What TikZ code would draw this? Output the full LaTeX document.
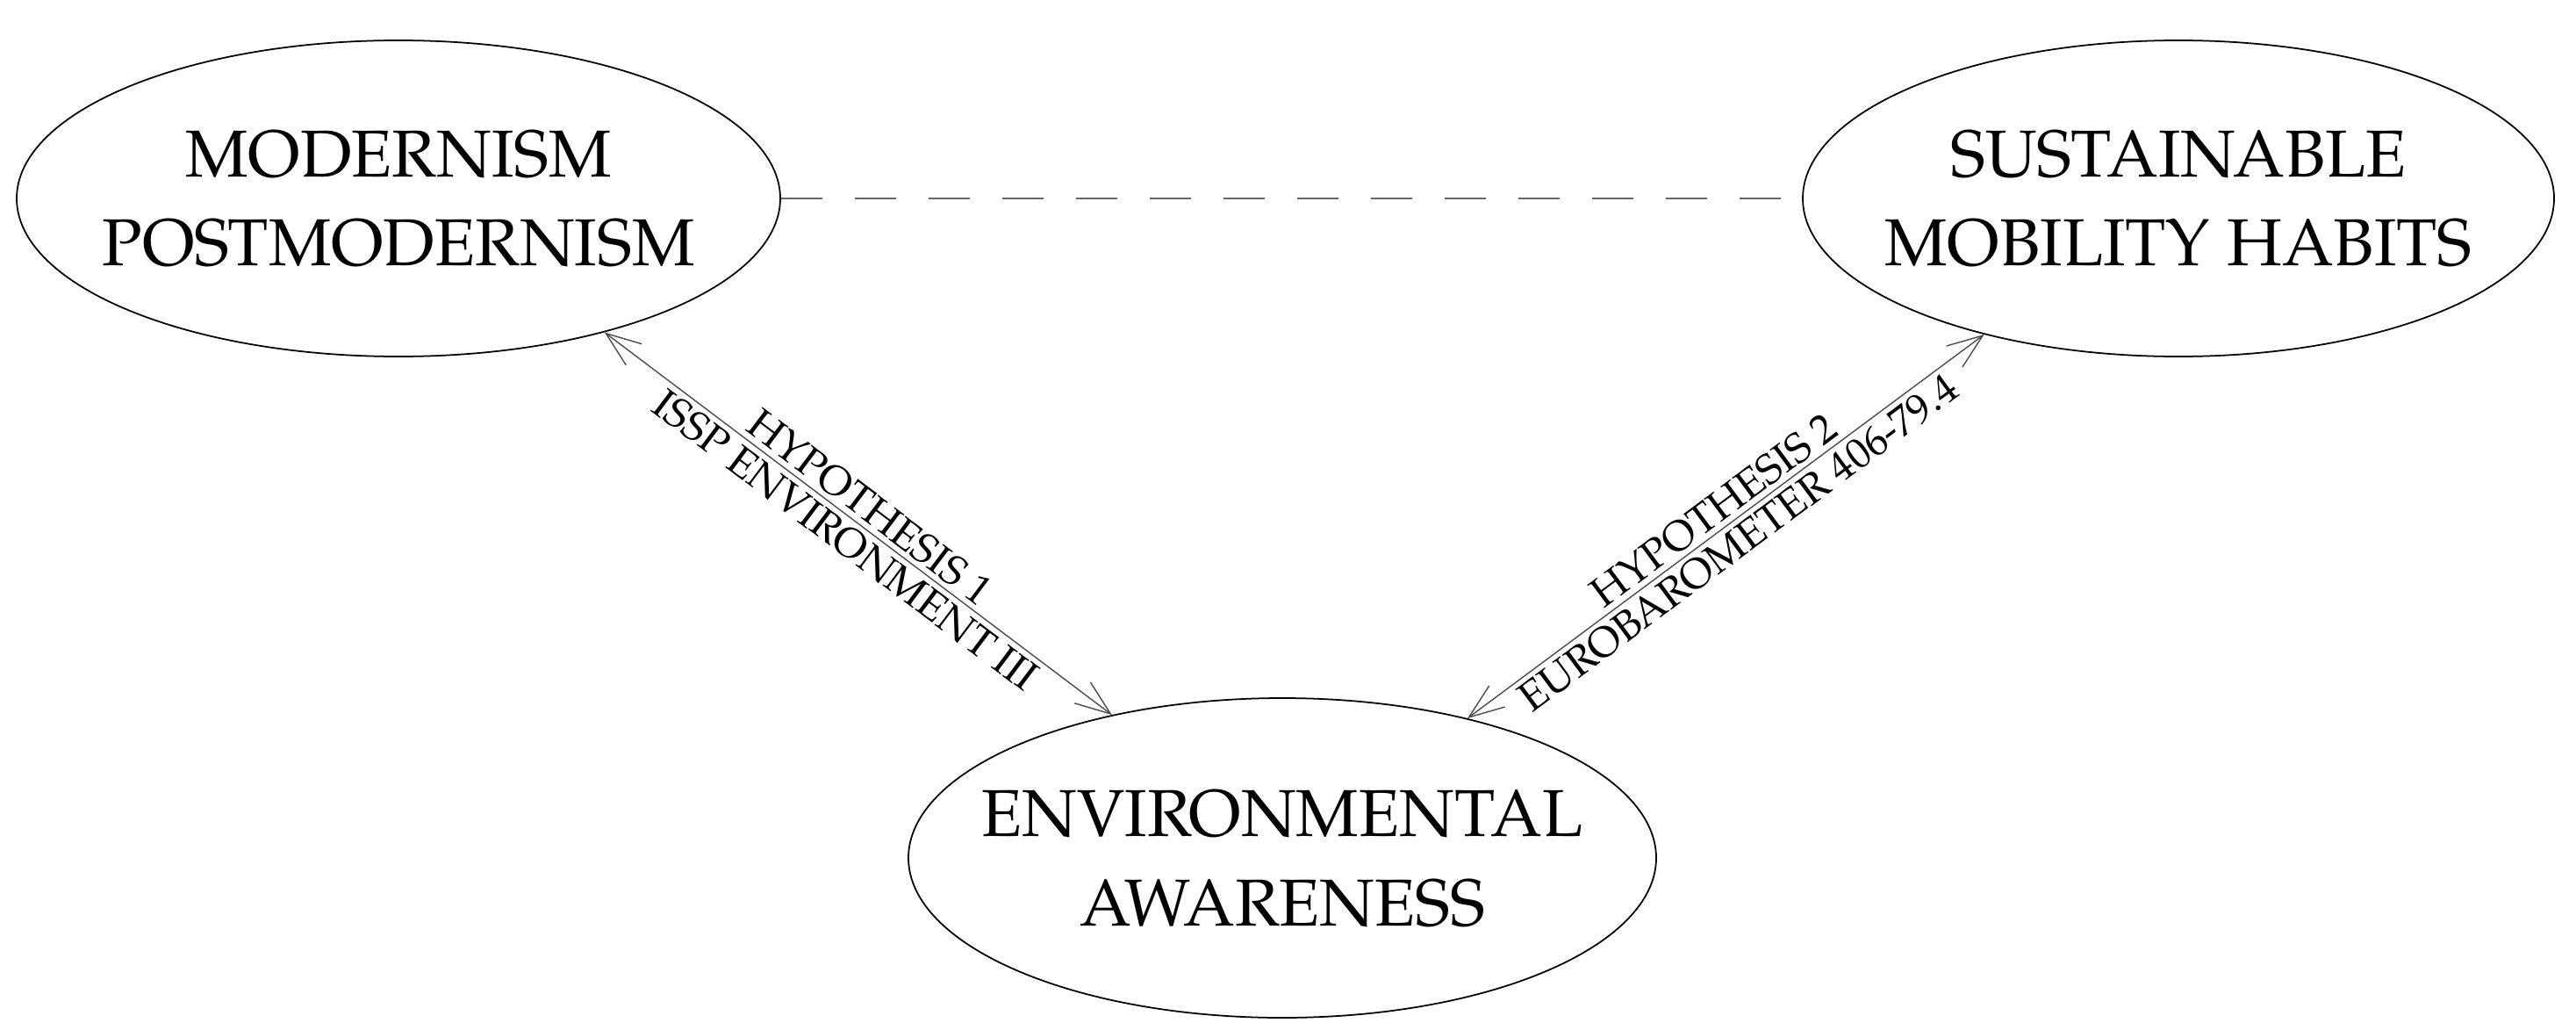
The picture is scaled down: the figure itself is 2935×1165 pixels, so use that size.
\documentclass[tikz,border=0pt]{standalone}
\usepackage{fontspec}
\setmainfont{TeX Gyre Pagella}
\usetikzlibrary{shapes.geometric,arrows.meta}
\begin{document}
\begin{tikzpicture}[x=0.1mm,y=-0.1mm,
  ell/.style={ellipse,draw,line width=0.5pt,minimum width=86mm,minimum height=36mm,align=center,font=\fontsize{21.5}{29}\selectfont,inner sep=-6mm},
  rel/.style={draw=black!70,line width=0.4pt,{Straight Barb[length=4mm,width=3mm]}-{Straight Barb[length=4mm,width=3mm]}},
  lab/.style={font=\fontsize{13.5}{15}\selectfont,sloped,inner sep=1.5pt}]
\useasboundingbox (0,0) rectangle (2935,1165);
\node[ell,minimum width=87mm] (l) at (454,226) {MODERNISM\\POSTMODERNISM};
\node[ell,minimum width=85.6mm] (r) at (2482,226) {SUSTAINABLE\\MOBILITY HABITS};
\node[ell,minimum width=85.2mm,minimum height=36.4mm] (b) at (1461,977) {ENVIRONMENTAL\\AWARENESS};
\draw[black!60,dash pattern=on 4.7mm off 3.7mm,line width=0.6pt] (l.east) -- (r.west);
\draw[rel] (l.-33) -- node[lab,above]{HYPOTHESIS 1} node[lab,below]{ISSP ENVIRONMENT III} (b.140.5);
\draw[rel] (b.37.9) -- node[lab,above]{HYPOTHESIS 2} node[lab,below]{EUROBAROMETER 406-79.4} (r.-145.5);
\end{tikzpicture}
\end{document}
